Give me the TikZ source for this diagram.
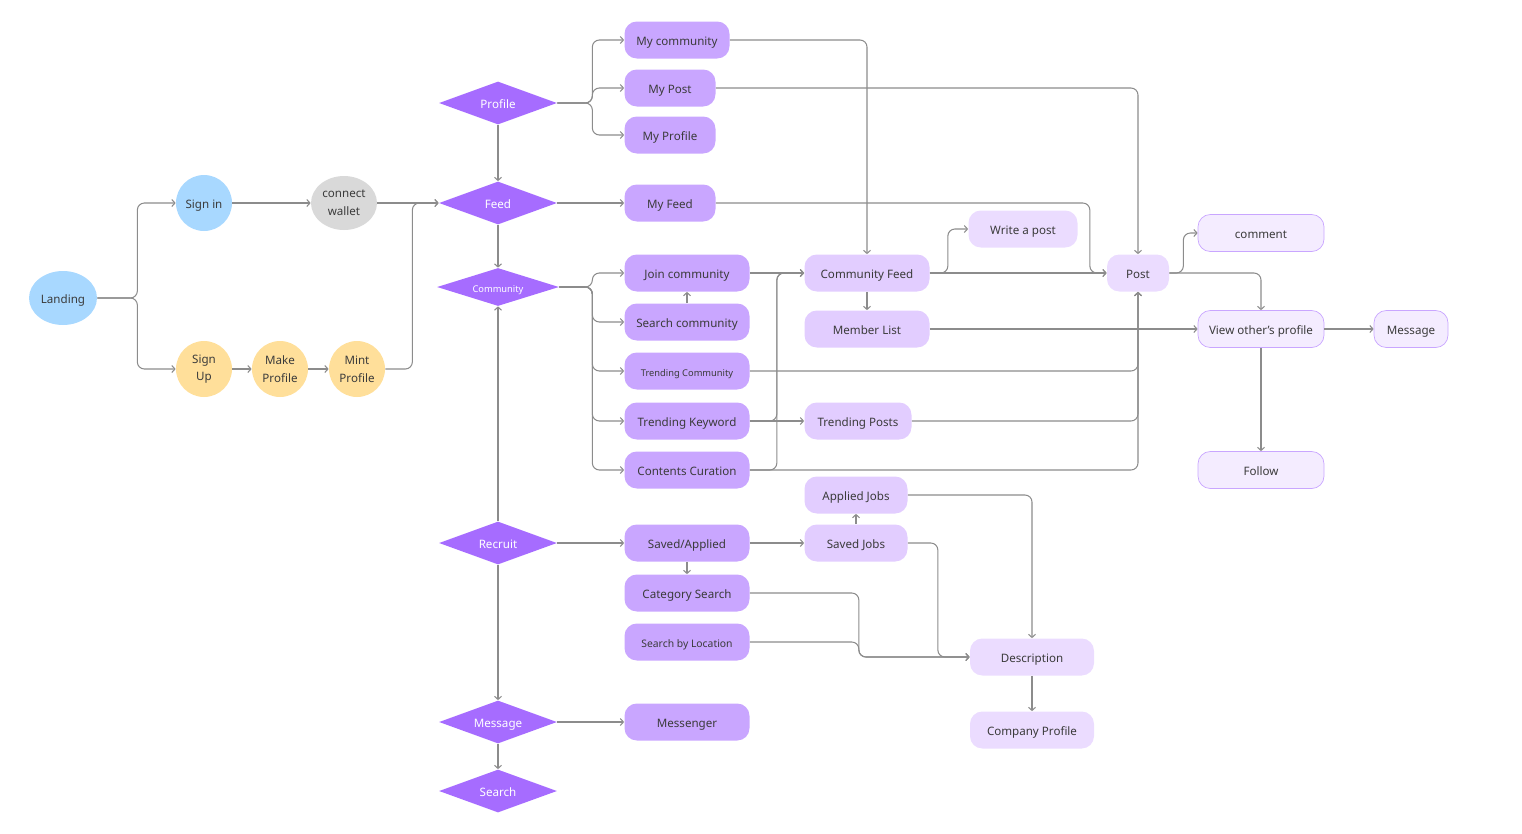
\documentclass[tikz,border=0pt]{standalone}
\usepackage{fontspec}
\setmainfont{Noto Sans}
\usetikzlibrary{shapes.geometric,arrows.meta}

\definecolor{skyblue}{HTML}{A8D8FF}
\definecolor{sand}{HTML}{FFDF9A}
\definecolor{walletgray}{HTML}{D9D9D9}
\definecolor{violet}{HTML}{A66CFF}
\definecolor{lilac}{HTML}{C9A6FF}
\definecolor{lavender}{HTML}{E2CDFF}
\definecolor{mist}{HTML}{EBDCFF}
\definecolor{haze}{HTML}{F4ECFF}
\definecolor{wire}{HTML}{8C8C8C}
\definecolor{ink}{HTML}{3B3B3B}

\tikzset{
  every node/.style={font=\fontsize{6.6}{10}\selectfont, text=ink, align=center, inner sep=0pt},
  wd/.style={minimum width=#1*0.02cm},
  oneline/.style={text height=1.45ex, text depth=0.3ex},
  orb/.style={ellipse, minimum height=1.08cm},
  gate/.style={diamond, fill=violet, text=white, oneline, minimum width=2.36cm, minimum height=0.86cm, aspect=2.7},
  pill/.style={rectangle, rounded corners=7pt, oneline, minimum height=0.74cm},
  flow/.style={draw=wire, line width=0.6pt, rounded corners=4pt, -{Straight Barb[length=1.8pt,width=4pt]}},
  tiny/.style={font=\fontsize{5.3}{6}\selectfont}
}

\begin{document}
\begin{tikzpicture}[x=0.02cm, y=-0.02cm]
  \useasboundingbox (0,0) rectangle (1522,833);

  % entry
  \node[orb, oneline, fill=skyblue, wd=68] (landing) at (63,298) {Landing};
  \node[orb, oneline, fill=skyblue, wd=56, minimum height=1.12cm] (signin) at (204,203) {Sign in};
  \node[orb, fill=walletgray, wd=66] (wallet) at (344,203) {connect\\wallet};
  \node[orb, fill=sand, wd=56, minimum height=1.12cm] (signup) at (204,369) {Sign\\Up};
  \node[orb, fill=sand, wd=56, minimum height=1.12cm] (makeprof) at (280,369) {Make\\Profile};
  \node[orb, fill=sand, wd=56, minimum height=1.12cm] (mintprof) at (357,369) {Mint\\Profile};

  % decisions
  \node[gate] (profile) at (498,103) {Profile};
  \node[gate] (feed) at (498,203) {Feed};
  \node[gate, tiny, text=white, minimum width=2.44cm, minimum height=0.76cm] (community) at (498,287) {Community};
  \node[gate] (recruit) at (498,543) {Recruit};
  \node[gate] (message) at (498,722) {Message};
  \node[gate] (search) at (498,791) {Search};

  % first column
  \node[pill, fill=lilac, wd=105] (mycomm) at (677,40) {My community};
  \node[pill, fill=lilac, wd=91] (mypost) at (670,88) {My Post};
  \node[pill, fill=lilac, wd=91] (myprof) at (670,135) {My Profile};
  \node[pill, fill=lilac, wd=91] (myfeed) at (670,203) {My Feed};
  \node[pill, fill=lilac, wd=125] (joincomm) at (687,273) {Join community};
  \node[pill, fill=lilac, wd=125] (searchcomm) at (687,322) {Search community};
  \node[pill, fill=lilac, wd=125, tiny] (trcomm) at (687,371) {Trending Community};
  \node[pill, fill=lilac, wd=125] (trkey) at (687,421) {Trending Keyword};
  \node[pill, fill=lilac, wd=125] (curation) at (687,470) {Contents Curation};
  \node[pill, fill=lilac, wd=125] (savedapp) at (687,543) {Saved/Applied};
  \node[pill, fill=lilac, wd=125] (catsearch) at (687,593) {Category Search};
  \node[pill, fill=lilac, wd=125, font=\fontsize{5.9}{7}\selectfont] (location) at (687,642) {Search by Location};
  \node[pill, fill=lilac, wd=125] (messenger) at (687,722) {Messenger};

  % second column
  \node[pill, fill=lavender, wd=125] (cfeed) at (867,273) {Community Feed};
  \node[pill, fill=lavender, wd=125] (members) at (867,329) {Member List};
  \node[pill, fill=lavender, wd=107] (trposts) at (858,421) {Trending Posts};
  \node[pill, fill=lavender, wd=103] (applied) at (856,495) {Applied Jobs};
  \node[pill, fill=lavender, wd=103] (savedjobs) at (856,543) {Saved Jobs};
  \node[pill, fill=mist, wd=109] (write) at (1023,229) {Write a post};
  \node[pill, fill=mist, wd=62] (post) at (1138,273) {Post};
  \node[pill, fill=mist, wd=124] (desc) at (1032,657) {Description};
  \node[pill, fill=mist, wd=124] (company) at (1032,730) {Company Profile};

  % outlined
  \node[pill, fill=haze, draw=lilac, wd=126] (comment) at (1261,233) {comment};
  \node[pill, fill=haze, draw=lilac, wd=126] (others) at (1261,329) {View other's profile};
  \node[pill, fill=haze, draw=lilac, wd=74] (msg) at (1411,329) {Message};
  \node[pill, fill=haze, draw=lilac, wd=126] (follow) at (1261,470) {Follow};

  % entry links
  \draw[flow] (landing.east) -- ++(40,0) |- (signin.west);
  \draw[flow] (landing.east) -- ++(40,0) |- (signup.west);
  \draw[flow] (signin.east) -- (wallet.west);
  \draw[flow] (signup.east) -- (makeprof.west);
  \draw[flow] (makeprof.east) -- (mintprof.west);
  \draw[flow] (wallet.east) -- (feed.west);
  \draw[flow] (mintprof.east) -- ++(27,0) |- (feed.west);

  % spine
  \draw[flow] (profile.south) -- (feed.north);
  \draw[flow] (feed.south) -- (community.north);
  \draw[flow] (recruit.north) -- (community.south);
  \draw[flow] (recruit.south) -- (message.north);
  \draw[flow] (message.south) -- (search.north);

  % profile and feed
  \draw[flow] (profile.east) -- ++(35,0) |- (mycomm.west);
  \draw[flow] (profile.east) -- ++(35,0) |- (mypost.west);
  \draw[flow] (profile.east) -- ++(35,0) |- (myprof.west);
  \draw[flow] (feed.east) -- (myfeed.west);
  \draw[flow] (mycomm.east) -| (cfeed.north);
  \draw[flow] (mypost.east) -| (post.north);
  \draw[flow] (myfeed.east) -- ++(374,0) |- (post.west);

  % community
  \foreach \n in {joincomm,searchcomm,trcomm,trkey,curation}
    \draw[flow] (community.east) -- ++(33,0) |- (\n.west);
  \draw[flow] (searchcomm.north) -- (joincomm.south);
  \draw[flow] (joincomm.east) -- (cfeed.west);
  \draw[flow] (trkey.east) -- ++(27,0) |- (cfeed.west);
  \draw[flow] (curation.east) -- ++(27,0) |- (cfeed.west);
  \draw[flow] (trkey.east) -- (trposts.west);
  \draw[flow] (trcomm.east) -| (post.south);
  \draw[flow] (trposts.east) -| (post.south);
  \draw[flow] (curation.east) -| (post.south);
  \draw[flow] (cfeed.south) -- (members.north);
  \draw[flow] (cfeed.east) -- (post.west);
  \draw[flow] (cfeed.east) -- ++(18,0) |- (write.west);
  \draw[flow] (members.east) -- (others.west);

  % post
  \draw[flow] (post.east) -- ++(14,0) |- (comment.west);
  \draw[flow] (post.east) -| (others.north);
  \draw[flow] (others.east) -- (msg.west);
  \draw[flow] (others.south) -- (follow.north);

  % recruit
  \draw[flow] (recruit.east) -- (savedapp.west);
  \draw[flow] (savedapp.east) -- (savedjobs.west);
  \draw[flow] (savedapp.south) -- (catsearch.north);
  \draw[flow] (savedjobs.north) -- (applied.south);
  \draw[flow] (applied.east) -| (desc.north);
  \draw[flow] (savedjobs.east) -- ++(30,0) |- (desc.west);
  \draw[flow] (catsearch.east) -- ++(109,0) |- (desc.west);
  \draw[flow] (location.east) -- ++(109,0) |- (desc.west);
  \draw[flow] (desc.south) -- (company.north);

  % message
  \draw[flow] (message.east) -- (messenger.west);
\end{tikzpicture}
\end{document}
